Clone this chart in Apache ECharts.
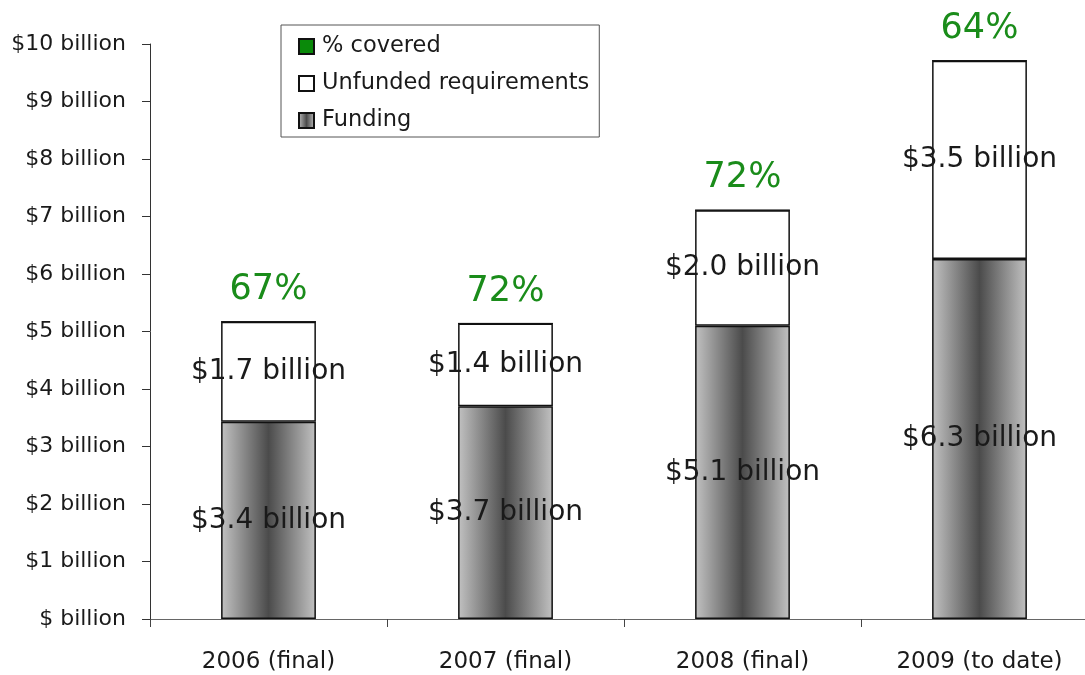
<!DOCTYPE html>
<html>
<head>
<meta charset="utf-8">
<script src="https://cdn.jsdelivr.net/npm/echarts@6/dist/echarts.min.js"></script>
<style>
  html, body { margin: 0; padding: 0; background: #fff; }
  #chart { width: 1085px; height: 675px; }
</style>
</head>
<body>
<div id="chart"></div>
<script>
// Funding vs. unfunded requirements per year, in billions of dollars
const years = ['2006 (final)', '2007 (final)', '2008 (final)', '2009 (to date)'];
const funding = [3.43, 3.70, 5.10, 6.26];
const unfunded = [1.74, 1.44, 2.01, 3.45];
const percentCovered = [67, 72, 72, 64];

const FONT = '"DejaVu Sans", "Noto Sans", sans-serif';
const INK = '#1a1a1a';

const fundingFill = {
  type: 'linear', x: 0, y: 0, x2: 1, y2: 0,
  colorStops: [
    { offset: 0, color: '#c2c2c2' },
    { offset: 0.5, color: '#4b4b4b' },
    { offset: 1, color: '#c2c2c2' }
  ]
};

const valueLabel = {
  show: true,
  position: 'inside',
  fontFamily: FONT,
  fontSize: 28,
  color: INK,
  formatter: p => '$' + p.value.toFixed(1) + ' billion'
};

const chart = echarts.init(document.getElementById('chart'));
chart.setOption({
  animation: false,
  backgroundColor: '#fff',
  // the last category runs slightly past the right edge of the canvas
  grid: { left: 150, width: 948, top: 44, bottom: 56, containLabel: false, outerBoundsMode: 'none' },
  legend: {
    orient: 'vertical',
    left: 281, top: 25,
    padding: [10, 10, 5, 17],
    icon: 'rect',
    itemWidth: 15, itemHeight: 15,
    itemGap: 14,
    borderColor: '#555', borderWidth: 1,
    backgroundColor: '#fff',
    textStyle: { fontFamily: FONT, fontSize: 22.5, color: INK, padding: [0, 0, 0, 3] },
    data: ['% covered', 'Unfunded requirements', 'Funding']
  },
  xAxis: {
    type: 'category',
    data: years,
    axisLine: { lineStyle: { color: '#666', width: 1 } },
    axisTick: { show: true, length: 8, alignWithLabel: false, lineStyle: { color: '#444' } },
    axisLabel: { fontFamily: FONT, fontSize: 23, color: INK, margin: 32 },
    splitLine: { show: false }
  },
  yAxis: {
    type: 'value',
    min: 0, max: 10, interval: 1,
    axisLine: { show: true, lineStyle: { color: '#333', width: 1 } },
    axisTick: { show: true, length: 8, lineStyle: { color: '#333' } },
    axisLabel: {
      fontFamily: FONT, fontSize: 22, color: INK, margin: 24,
      formatter: v => '$' + (v === 0 ? '' : v) + ' billion'
    },
    splitLine: { show: false }
  },
  series: [
    {
      name: 'Funding',
      type: 'bar',
      stack: 'total',
      barWidth: '40%',
      data: funding,
      itemStyle: { color: fundingFill, borderColor: '#111', borderWidth: 1.5 },
      label: valueLabel
    },
    {
      name: 'Unfunded requirements',
      type: 'bar',
      stack: 'total',
      data: unfunded,
      itemStyle: { color: '#fff', borderColor: '#111', borderWidth: 1.5 },
      label: valueLabel
    },
    {
      name: '% covered',
      type: 'bar',
      stack: 'total',
      data: percentCovered.map(() => 0),
      itemStyle: { color: '#0a8a0a', borderColor: '#111', borderWidth: 1 },
      label: {
        show: true,
        position: 'top',
        distance: 14,
        fontFamily: FONT,
        fontSize: 35,
        color: '#1a8c1a',
        formatter: p => percentCovered[p.dataIndex] + '%'
      }
    }
  ]
});
</script>
</body>
</html>
